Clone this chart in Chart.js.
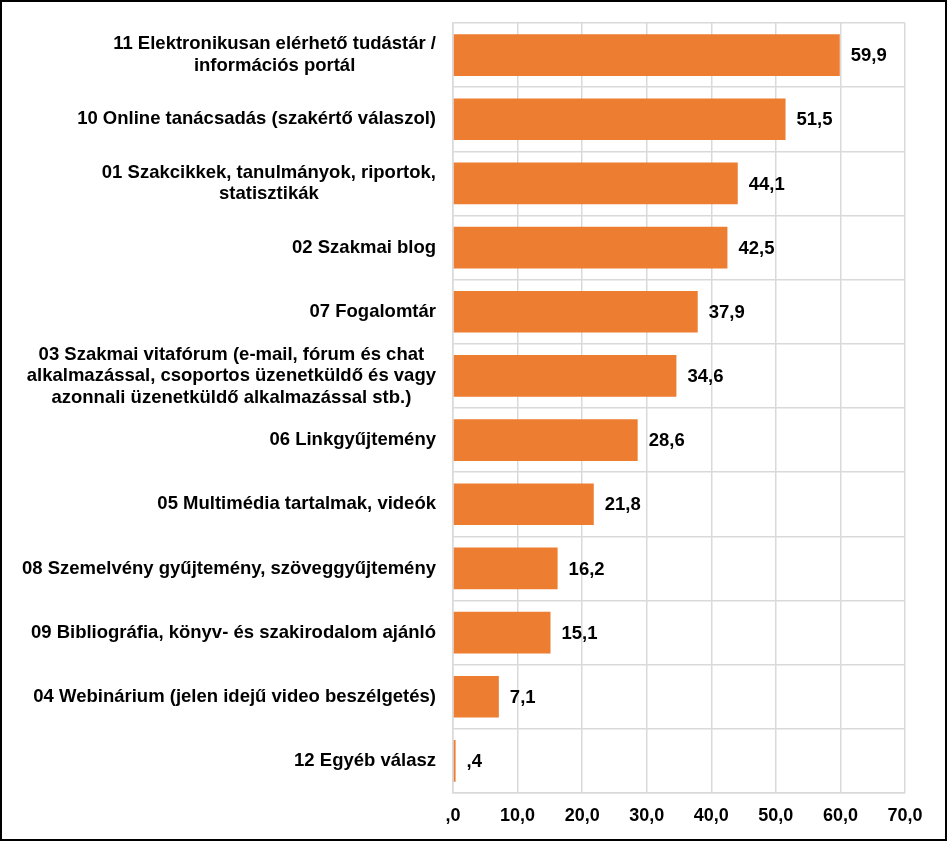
<!DOCTYPE html>
<html>
<head>
<meta charset="utf-8">
<script src="https://cdn.jsdelivr.net/npm/chart.js@4"></script>
<style>
  html, body { margin: 0; padding: 0; background: #fff; }
  #wrap { width: 947px; height: 841px; box-sizing: border-box; border: 2px solid #000; }
  #wrap canvas { display: block; }
</style>
</head>
<body>
<div id="wrap"><canvas id="myChart" width="943" height="837"></canvas></div>
<script>
// categories (multi-line labels as arrays)
var categories = [
  ["11 Elektronikusan elérhető tudástár /", "információs portál"],
  "10 Online tanácsadás (szakértő válaszol)",
  ["01 Szakcikkek, tanulmányok, riportok,", "statisztikák"],
  "02 Szakmai blog",
  "07 Fogalomtár",
  ["03 Szakmai vitafórum (e-mail, fórum és chat", "alkalmazással, csoportos üzenetküldő és vagy", "azonnali üzenetküldő alkalmazással stb.)"],
  "06 Linkgyűjtemény",
  "05 Multimédia tartalmak, videók",
  "08 Szemelvény gyűjtemény, szöveggyűjtemény",
  "09 Bibliográfia, könyv- és szakirodalom ajánló",
  "04 Webinárium (jelen idejű video beszélgetés)",
  "12 Egyéb válasz"
];
var values = [59.9, 51.5, 44.1, 42.5, 37.9, 34.6, 28.6, 21.8, 16.2, 15.1, 7.1, 0.4];
var xMin = 0, xMax = 70, xStep = 10;

var FONT = '"Liberation Sans", Arial, sans-serif';

// Hungarian style number: comma decimal, no leading zero
function fmt(v) {
  var s = v.toFixed(1).replace(".", ",");
  if (s.indexOf("0,") === 0) s = s.substring(1);
  return s;
}

// draws value labels next to bar ends
var valueLabels = {
  id: "valueLabels",
  afterDatasetsDraw: function(chart) {
    var ctx = chart.ctx;
    var meta = chart.getDatasetMeta(0);
    ctx.save();
    ctx.font = "bold 18.5px " + FONT;
    ctx.fillStyle = "#000";
    ctx.textAlign = "left";
    ctx.textBaseline = "middle";
    meta.data.forEach(function(bar, i) {
      ctx.fillText(fmt(values[i]), bar.x + 11, bar.y + 1);
    });
    ctx.restore();
  }
};

// category labels: lines centred within their block, block right aligned
var catLabels = {
  id: "catLabels",
  afterDraw: function(chart) {
    var ctx = chart.ctx;
    var yScale = chart.scales.y;
    var right = chart.chartArea.left - 17;
    var lh = 21.5;
    ctx.save();
    ctx.font = "bold 18.5px " + FONT;
    ctx.fillStyle = "#000";
    ctx.textAlign = "center";
    ctx.textBaseline = "middle";
    categories.forEach(function(lab, i) {
      var lines = Array.isArray(lab) ? lab : [lab];
      var w = 0;
      lines.forEach(function(l) { w = Math.max(w, ctx.measureText(l).width); });
      var cx = right - w / 2;
      var y0 = yScale.getPixelForTick(i) - (lines.length - 1) * lh / 2;
      lines.forEach(function(l, k) {
        ctx.fillText(l, cx, y0 + k * lh);
      });
    });
    ctx.restore();
  }
};

var config = {
  type: "bar",
  data: {
    labels: categories,
    datasets: [{
      data: values,
      backgroundColor: "#ED7D31",
      barPercentage: 0.65,
      categoryPercentage: 1.0
    }]
  },
  options: {
    indexAxis: "y",
    responsive: false,
    animation: false,
    layout: { padding: { top: 21, right: 40, left: 0, bottom: 0 } },
    scales: {
      x: {
        min: xMin,
        max: xMax,
        grid: { color: "#d9d9d9", lineWidth: 1.5, drawTicks: false },
        border: { color: "#d9d9d9", width: 1.5 },
        ticks: {
          stepSize: xStep,
          padding: 12,
          color: "#000",
          font: { family: FONT, size: 18, weight: "bold" },
          callback: function(v) { return fmt(v); }
        },
        afterFit: function(scale) { scale.height = 46; }
      },
      y: {
        grid: { color: "#d9d9d9", lineWidth: 1.5, drawTicks: false, offset: true },
        border: { color: "#d9d9d9", width: 1.5 },
        ticks: { color: "rgba(0,0,0,0)", font: { family: FONT, size: 16, weight: "bold" } },
        afterFit: function(scale) { scale.width = 451; }
      }
    },
    plugins: {
      legend: { display: false },
      tooltip: { enabled: false }
    }
  },
  plugins: [valueLabels, catLabels]
};

var ctx = document.getElementById("myChart").getContext("2d");
var myChart = new Chart(ctx, config);
</script>
</body>
</html>
